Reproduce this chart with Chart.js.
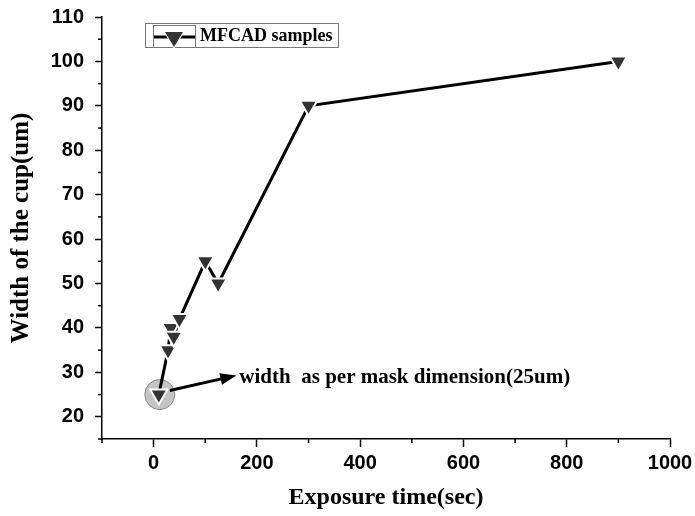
<!DOCTYPE html>
<html>
<head>
<meta charset="utf-8">
<script src="https://cdn.jsdelivr.net/npm/chart.js@4/dist/chart.umd.min.js"></script>
<style>
  html, body { margin: 0; padding: 0; background: #fff; }
  #wrap { width: 695px; height: 516px; }
</style>
</head>
<body>
<div id="wrap"><canvas id="cupChart" width="695" height="516"></canvas></div>
<script>
// Werte
const exposureTimes = [10, 28, 33, 39, 50, 100, 125, 300, 900];
const cupWidths = [25, 35, 40, 38, 42, 55, 50, 90, 100];
const seriesLabel = 'MFCAD samples';
const noteText = 'width  as per mask dimension(25um)';
const noteArrowTo = [160, 29.3];   // Pfeilspitze in Datenkoordinaten
const noteTextAt = [166, 28.9];

const serif = '"Liberation Serif", "Times New Roman", serif';
const sans = '"Liberation Sans", Arial, sans-serif';

// Kreis um ersten Punkt, Pfeil + Text, kleine Zwischenticks, Legende
const decorPlugin = {
    id: 'decor',
    beforeDatasetsDraw(chart) {
        const ctx = chart.ctx;
        const xs = chart.scales.x, ys = chart.scales.y;
        const px = xs.getPixelForValue(exposureTimes[0]);
        const py = ys.getPixelForValue(cupWidths[0]);
        ctx.save();
        ctx.beginPath();
        ctx.arc(px + 1, py, 15, 0, Math.PI * 2);
        ctx.fillStyle = '#c4c4c4';
        ctx.fill();
        ctx.lineWidth = 1;
        ctx.strokeStyle = '#8a8a8a';
        ctx.stroke();
        ctx.restore();
    },
    afterDraw(chart) {
        const ctx = chart.ctx;
        const xs = chart.scales.x, ys = chart.scales.y;
        const area = chart.chartArea;
        ctx.save();

        // Pfeil
        const x0 = xs.getPixelForValue(exposureTimes[0]) + 11;
        const y0 = ys.getPixelForValue(cupWidths[0]) - 4;
        const x1 = xs.getPixelForValue(noteArrowTo[0]);
        const y1 = ys.getPixelForValue(noteArrowTo[1]);
        const ang = Math.atan2(y1 - y0, x1 - x0);
        ctx.strokeStyle = '#000';
        ctx.fillStyle = '#000';
        ctx.lineWidth = 3;
        ctx.beginPath();
        ctx.moveTo(x0, y0);
        ctx.lineTo(x1 - 12 * Math.cos(ang), y1 - 12 * Math.sin(ang));
        ctx.stroke();
        ctx.beginPath();
        ctx.moveTo(x1, y1);
        ctx.lineTo(x1 - 16 * Math.cos(ang) + 6 * Math.sin(ang), y1 - 16 * Math.sin(ang) - 6 * Math.cos(ang));
        ctx.lineTo(x1 - 16 * Math.cos(ang) - 6 * Math.sin(ang), y1 - 16 * Math.sin(ang) + 6 * Math.cos(ang));
        ctx.closePath();
        ctx.fill();

        // Text
        ctx.font = 'bold 21px ' + serif;
        ctx.textBaseline = 'middle';
        ctx.textAlign = 'left';
        ctx.fillText(noteText, xs.getPixelForValue(noteTextAt[0]), ys.getPixelForValue(noteTextAt[1]));

        // kleine Ticks
        ctx.lineWidth = 1.5;
        ctx.strokeStyle = '#000';
        xs.ticks.forEach(t => {
            if (t.value % 200 !== 0) {
                const p = xs.getPixelForValue(t.value);
                ctx.beginPath();
                ctx.moveTo(p, area.bottom);
                ctx.lineTo(p, area.bottom + 4);
                ctx.stroke();
            }
        });
        ys.ticks.forEach(t => {
            if (t.value % 10 !== 0) {
                const p = ys.getPixelForValue(t.value);
                ctx.beginPath();
                ctx.moveTo(area.left, p);
                ctx.lineTo(area.left - 4, p);
                ctx.stroke();
            }
        });

        // Legende
        const lx = area.left + 43, ly = area.top + 6;
        ctx.lineWidth = 1;
        ctx.strokeStyle = '#777';
        ctx.strokeRect(lx + 0.5, ly + 0.5, 193, 24);
        ctx.strokeRect(lx + 8.5, ly + 2.5, 42, 22);
        ctx.strokeStyle = '#000';
        ctx.lineWidth = 3;
        ctx.beginPath();
        ctx.moveTo(lx + 9, ly + 14);
        ctx.lineTo(lx + 50, ly + 14);
        ctx.stroke();
        ctx.fillStyle = '#333';
        ctx.strokeStyle = '#fff';
        ctx.lineWidth = 2;
        ctx.beginPath();
        ctx.moveTo(lx + 20, ly + 9);
        ctx.lineTo(lx + 38, ly + 9);
        ctx.lineTo(lx + 29, ly + 24);
        ctx.closePath();
        ctx.stroke();
        ctx.fill();
        ctx.fillStyle = '#000';
        ctx.font = 'bold 18px ' + serif;
        ctx.textBaseline = 'middle';
        ctx.fillText(seriesLabel, lx + 55, ly + 13);
        ctx.restore();
    }
};

window.onload = function() {
    const ctx = document.getElementById('cupChart').getContext('2d');
    new Chart(ctx, {
        type: 'line',
        data: {
            datasets: [{
                label: seriesLabel,
                data: exposureTimes.map((t, i) => ({ x: t, y: cupWidths[i] })),
                borderColor: '#000',
                borderWidth: 3,
                pointStyle: 'triangle',
                rotation: 180,
                pointRadius: 10,
                pointBackgroundColor: '#333',
                pointBorderColor: '#fff',
                pointBorderWidth: 2,
                tension: 0
            }]
        },
        options: {
            responsive: false,
            animation: false,
            layout: { padding: { top: 17, right: 25, left: 0, bottom: 0 } },
            plugins: { legend: { display: false }, tooltip: { enabled: false } },
            scales: {
                x: {
                    type: 'linear',
                    min: -100, max: 1000,
                    afterFit: s => { s.height = 77; s.paddingLeft = 0; s.paddingRight = 0; },
                    border: { color: '#000', width: 1.5 },
                    grid: {
                        drawOnChartArea: false, tickLength: 8, tickWidth: 1.5,
                        tickColor: c => c.tick && c.tick.value % 200 === 0 ? '#000' : 'rgba(0,0,0,0)'
                    },
                    ticks: {
                        stepSize: 100, padding: 4, color: '#000', maxRotation: 0, autoSkip: false,
                        font: { family: sans, size: 20, weight: 'bold' },
                        callback: v => v % 200 === 0 ? v : ''
                    },
                    title: {
                        display: true, text: 'Exposure time(sec)', color: '#000',
                        font: { family: serif, size: 24, weight: 'bold' },
                        padding: { top: 0, bottom: 4 }
                    }
                },
                y: {
                    min: 15, max: 110,
                    afterFit: s => { s.width = 102; s.paddingTop = 0; s.paddingBottom = 0; },
                    border: { color: '#000', width: 1.5 },
                    grid: {
                        drawOnChartArea: false, tickLength: 7, tickWidth: 1.5,
                        tickColor: c => c.tick && c.tick.value % 10 === 0 ? '#000' : 'rgba(0,0,0,0)'
                    },
                    ticks: {
                        stepSize: 5, padding: 11, color: '#000', autoSkip: false,
                        font: { family: sans, size: 20, weight: 'bold' },
                        callback: v => v % 10 === 0 ? v : ''
                    },
                    title: {
                        display: true, text: 'Width of the cup(um)', color: '#000',
                        font: { family: serif, size: 25, weight: 'bold' },
                        padding: { top: 7, bottom: 0 }
                    }
                }
            }
        },
        plugins: [decorPlugin]
    });
};
</script>
</body>
</html>
